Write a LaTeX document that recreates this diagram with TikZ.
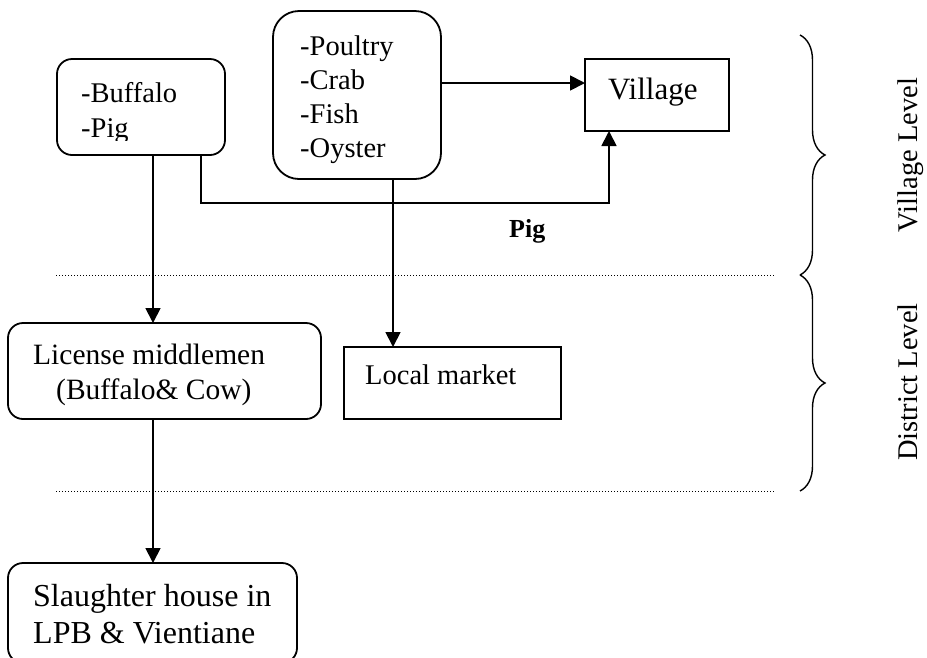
\documentclass[tikz,border=0pt]{standalone}
\usepackage{fontspec}
\setmainfont{Liberation Serif}
\usetikzlibrary{arrows.meta,decorations.pathreplacing}

\tikzset{
  boxline/.style={draw=black, line width=1.8pt},
  roundbox/.style={boxline, rounded corners=15pt, inner sep=0pt, outer sep=0pt},
  bigroundbox/.style={boxline, rounded corners=26pt, inner sep=0pt, outer sep=0pt},
  squarebox/.style={boxline, inner sep=0pt, outer sep=0pt},
  txt/.style={anchor=base west, inner sep=0pt, font=\fontsize{28.5}{34}\selectfont},
  largetxt/.style={txt, font=\fontsize{32}{37}\selectfont},
  flow/.style={line width=1.8pt, -{Triangle[length=15pt,width=15pt]}},
  levelsep/.style={line width=1pt, dash pattern=on 1pt off 2pt},
  levelbrace/.style={line width=1.4pt, decorate, decoration={brace, amplitude=25pt}},
  leveltxt/.style={rotate=90, inner sep=0pt, font=\fontsize{28.5}{34}\selectfont},
}

\begin{document}
\begin{tikzpicture}[x=1pt, y=-1pt]
  \useasboundingbox (0,0) rectangle (927,657);
  \clip (0,0) rectangle (927,657);

  % boxes
  \node[roundbox, minimum width=168pt, minimum height=96pt] (buffalo) at (141,107) {};
  \node[bigroundbox, minimum width=168pt, minimum height=168pt] (poultry) at (357,95) {};
  \node[squarebox, minimum width=144pt, minimum height=72pt] (village) at (657,95) {};
  \node[roundbox, minimum width=313pt, minimum height=96pt] (license) at (164.5,371) {};
  \node[squarebox, minimum width=217pt, minimum height=72pt] (market) at (452.5,383) {};
  \node[roundbox, minimum width=289pt, minimum height=100pt] (slaughter) at (152.5,613) {};

  % box texts
  \begin{scope}
    \clip (57,59) rectangle (225,140.5);
    \node[txt] (buffalotxt) at (81,102) {-Buffalo};
    \node[txt] (pigtxt) at (81,137) {-Pig};
  \end{scope}
  \node[txt] (poultrytxt) at (300,55) {-Poultry};
  \node[txt] (crabtxt) at (300,89) {-Crab};
  \node[txt] (fishtxt) at (300,123) {-Fish};
  \node[txt] (oystertxt) at (300,157) {-Oyster};
  \node[txt, font=\fontsize{31}{36}\selectfont] (villagetxt) at (608,99) {Village};
  \node[txt, font=\fontsize{29.5}{35}\selectfont] (licensetxt1) at (33,364) {License middlemen};
  \node[txt, font=\fontsize{29.5}{35}\selectfont] (licensetxt2) at (56,399) {(Buffalo\& Cow)};
  \node[txt] (markettxt) at (365,384) {Local market};
  \node[largetxt] (slaughtertxt1) at (33,606) {Slaughter house in};
  \node[largetxt] (slaughtertxt2) at (33,643) {LPB \& Vientiane};
  \node[txt, font=\fontsize{26}{30}\selectfont\bfseries] (pigflow) at (509,237) {Pig};

  % connector guides
  \coordinate (colA) at (153,0);
  \coordinate (colB) at (201,0);
  \coordinate (colC) at (393,0);
  \coordinate (rowA) at (0,83);
  \coordinate (pigbend) at (609,203);

  % flows
  \draw[flow] (poultry.east |- rowA) -- (village.west |- rowA);
  \draw[flow] (buffalo.south -| colB) |- (pigbend) -- (village.south -| pigbend);
  \draw[flow] (buffalo.south -| colA) -- (license.north -| colA);
  \draw[flow] (poultry.south -| colC) -- (market.north -| colC);
  \draw[flow] (license.south -| colA) -- (slaughter.north -| colA);

  % level separators
  \coordinate (sepL1) at (56,275);
  \coordinate (sepR1) at (774,275);
  \coordinate (sepL2) at (56,491);
  \coordinate (sepR2) at (774,491);
  \draw[levelsep] (sepL1) -- (sepR1);
  \draw[levelsep] (sepL2) -- (sepR2);

  % level braces and labels
  \draw[levelbrace] (800,35) -- (800,275);
  \draw[levelbrace] (800,275) -- (800,491);
  \node[leveltxt] (villagelevel) at (911,155) {Village Level};
  \node[leveltxt] (districtlevel) at (908,382) {District Level};
\end{tikzpicture}
\end{document}
